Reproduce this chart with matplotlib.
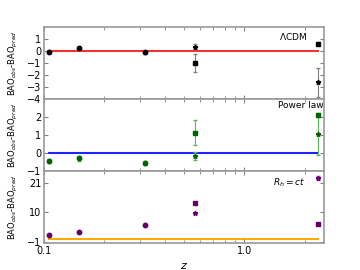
import matplotlib.pyplot as plt

plt.rcParams['font.family'] = ['DejaVu Sans']
plt.rcParams['mathtext.fontset'] = 'dejavusans'

z_low = [0.106, 0.15, 0.32]
z_hi = [0.57, 2.34]
z_all = [0.106, 0.15, 0.32, 0.57, 2.34]

# LCDM residuals
lcdm_low = [-0.05, 0.22, -0.12]
lcdm_low_err = [0.1, 0.1, 0.1]
lcdm_sq = [-0.97, 0.6]
lcdm_sq_err = [0.75, 0.12]
lcdm_st = [0.35, -2.6]
lcdm_st_err = [0.2, 1.2]

# power law residuals
pl_low = [-0.46, -0.3, -0.55]
pl_low_err = [0.12, 0.12, 0.12]
pl_sq = [1.13, 2.13]
pl_sq_err = [0.7, 0.12]
pl_st = [-0.17, 1.04]
pl_st_err = [0.2, 1.15]

# R_h = ct residuals
rh_low = [1.6, 2.6, 5.1]
rh_low_err = [0.2, 0.2, 0.2]
rh_sq = [13.4, 5.5]
rh_sq_err = [0.2, 0.2]
rh_st = [9.6, 22.9]
rh_st_err = [0.2, 0.8]

panels = [
    (lcdm_low, lcdm_low_err, lcdm_sq, lcdm_sq_err, lcdm_st, lcdm_st_err,
     'black', 'gray', '#ee3333', r'$\Lambda$CDM', (0.94, 0.875),
     (-4, 2), [-4, -3, -2, -1, 0, 1]),
    (pl_low, pl_low_err, pl_sq, pl_sq_err, pl_st, pl_st_err,
     '#006400', '#55bb55', '#2222ff', 'Power law', (0.997, 0.915),
     (-1, 3), [-1, 0, 1, 2]),
    (rh_low, rh_low_err, rh_sq, rh_sq_err, rh_st, rh_st_err,
     '#660066', '#bb66cc', '#ffaa00', r'$R_h=ct$', (0.935, 0.83),
     (-1.5, 25.5), [-1, 10, 21]),
]

fig, axes = plt.subplots(3, 1, figsize=(3.6, 2.7), dpi=100, sharex=True)
fig.subplots_adjust(left=0.122, right=0.9, bottom=0.1, top=0.9, hspace=0)

for ax, (lo, loe, sq, sqe, st, ste, mc, ec, lc, lab, lpos, ylim, yt) in zip(axes, panels):
    ax.plot(z_all, [0] * len(z_all), color=lc, lw=1.5, zorder=1)
    ax.errorbar(z_low, lo, yerr=loe, fmt='o', color=mc, ecolor=ec, ms=3.2,
                capsize=1.5, elinewidth=0.8, zorder=3)
    ax.errorbar(z_hi, sq, yerr=sqe, fmt='s', color=mc, ecolor=ec, ms=3.5,
                capsize=1.5, elinewidth=0.8, zorder=3)
    ax.errorbar(z_hi, st, yerr=ste, fmt='*', color=mc, ecolor=ec, ms=3.5,
                capsize=1.5, elinewidth=0.8, zorder=3)
    ax.set_xscale('log')
    ax.set_xlim(0.1, 2.5)
    ax.set_ylim(*ylim)
    ax.set_yticks(yt)
    ax.tick_params(direction='in', which='both', top=True, right=True,
                   labelsize=7, length=2, color='gray', pad=2)
    ax.tick_params(which='major', length=3)
    for s in ax.spines.values():
        s.set_color('#999999')
        s.set_linewidth(1.2)
    ax.set_ylabel(r'BAO$_{obs}$-BAO$_{pred}$', fontsize=6)
    ax.yaxis.set_label_coords(-0.085, 0.5)
    ax.text(lpos[0], lpos[1], lab, transform=ax.transAxes, ha='right',
            va='center', fontsize=6.5)

axes[2].set_xticks([0.1, 1.0])
axes[2].set_xticklabels(['0.1', '1.0'])
axes[2].set_xlabel(r'$z$', fontsize=8)
for ax in axes:
    ax.xaxis.set_minor_formatter(plt.NullFormatter())

fig.savefig('out.png', dpi=100)
